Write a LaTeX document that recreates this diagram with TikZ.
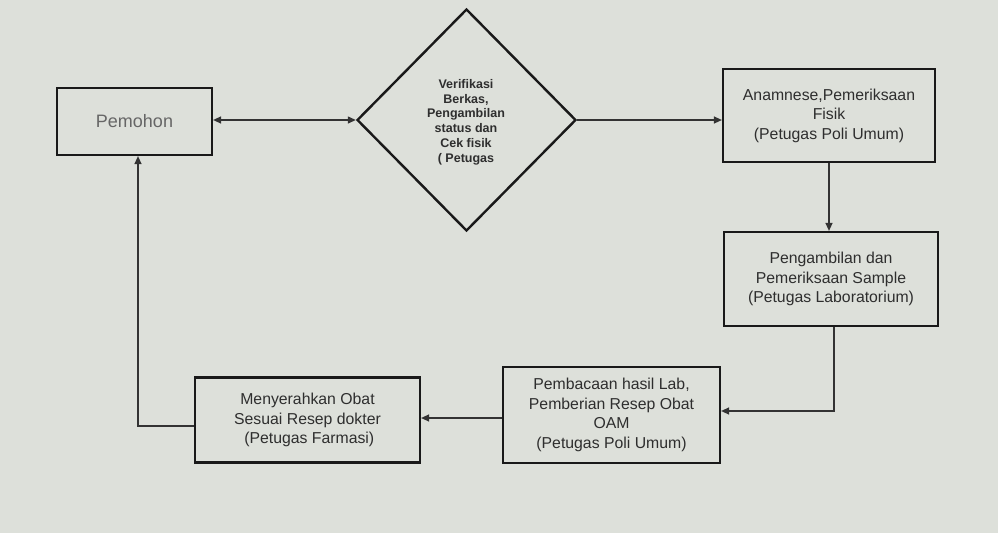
\documentclass[tikz,border=0pt]{standalone}
\usepackage{fontspec}
\setmainfont{Liberation Sans}
\usetikzlibrary{shapes.geometric,arrows.meta}
\definecolor{bg}{HTML}{DDE0DA}
\definecolor{txt}{HTML}{2E2E2E}
\tikzset{
  procbox/.style={draw=black!90,line width=2.2pt,fill=none,inner sep=0pt,align=center,text=txt,font=\fontsize{15.8}{19.5}\selectfont},
  dec/.style={draw=black!90,line width=2.4pt,diamond,inner sep=0pt,align=center,font=\bfseries\fontsize{12.5}{14.8}\selectfont,text=txt},
  conn/.style={draw=black!80,line width=1.3pt,-{Triangle[length=8pt,width=7pt]}},
  bconn/.style={draw=black!80,line width=1.3pt,{Triangle[length=8pt,width=7pt]}-{Triangle[length=8pt,width=7pt]}}
}
\begin{document}
\begin{tikzpicture}[x=1pt,y=-1pt]
\fill[bg] (0,0) rectangle (998,533);
\useasboundingbox (0,0) rectangle (998,533);
% nodes
\node[procbox,minimum width=155pt,minimum height=67pt,text=black!60,font=\fontsize{18}{22}\selectfont] (pem) at (134.5,121.5) {Pemohon};
\node[dec,minimum width=219pt,minimum height=222pt] (ver) at (466.5,120) {};
\node[align=center,font=\bfseries\fontsize{12.5}{14.8}\selectfont,text=txt] (vertxt) at (466,122) {Verifikasi\\Berkas,\\Pengambilan\\status dan\\Cek fisik\\( Petugas};
\node[procbox,minimum width=212pt,minimum height=93pt] (ana) at (829,115.5) {Anamnese,Pemeriksaan\\Fisik\\(Petugas Poli Umum)};
\node[procbox,minimum width=214pt,minimum height=94pt] (lab) at (831,279) {Pengambilan dan\\Pemeriksaan Sample\\(Petugas Laboratorium)};
\node[procbox,minimum width=217pt,minimum height=96pt] (bac) at (611.5,415) {Pembacaan hasil Lab,\\Pemberian Resep Obat\\OAM\\(Petugas Poli Umum)};
\node[procbox,minimum width=225pt,minimum height=85pt] (far) at (307.5,420) {Menyerahkan Obat\\Sesuai Resep dokter\\\phantom{i}(Petugas Farmasi)};
% connectors
\coordinate (c1) at (834,411);
\coordinate (c2) at (138,426);
\draw[bconn] (pem.east |- ver.west) -- (ver.west);
\draw[conn] (ver.east) -- (ana.west |- ver.east);
\draw[conn] (ana.south) -- (ana.south |- lab.north);
\draw[conn] (lab.south -| c1) -- (c1) -- (bac.east |- c1);
\draw[conn] (bac.west |- 0,418) -- (far.east |- 0,418);
\draw[conn] (far.west |- c2) -- (c2) -- (c2 |- pem.south);
\end{tikzpicture}
\end{document}
